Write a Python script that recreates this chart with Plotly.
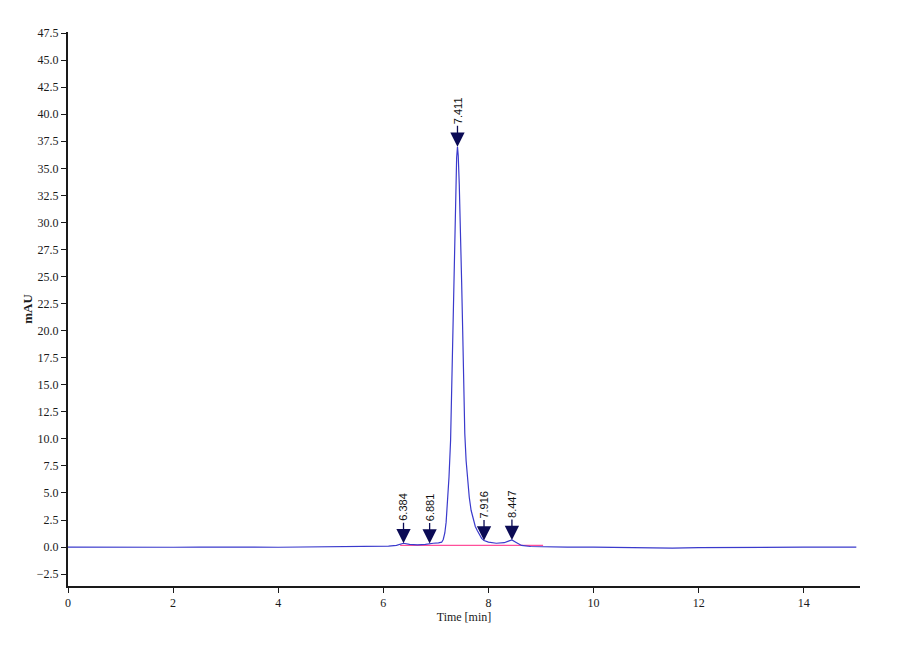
import plotly.graph_objects as go

# chromatogram (time in min, signal in mAU)
time_min = [0.0, 0.5, 1.0, 1.5, 2.0, 2.5, 3.0, 3.5, 4.0, 4.5, 5.0, 5.5, 5.8, 6.1,
            6.25, 6.384, 6.5, 6.65, 6.8, 6.881, 6.95, 7.05, 7.11, 7.14, 7.17, 7.195,
            7.215, 7.25, 7.28, 7.30, 7.318, 7.336, 7.356, 7.375, 7.395, 7.411, 7.425,
            7.445, 7.47, 7.49, 7.51, 7.53, 7.55, 7.575, 7.60, 7.635, 7.67, 7.71, 7.75,
            7.79, 7.83, 7.87, 7.916, 8.0, 8.15, 8.3, 8.38, 8.447, 8.52, 8.63, 8.8, 9.0,
            9.5, 10.0, 10.5, 11.0, 11.5, 12.0, 12.5, 13.0, 13.5, 14.0, 14.5, 15.0]
signal_mau = [0.0, -0.02, 0.0, 0.0, -0.02, 0.0, -0.03, 0.0, -0.02, 0.0, 0.0, 0.02, 0.05, 0.08,
              0.15, 0.35, 0.25, 0.2, 0.25, 0.32, 0.35, 0.38, 0.45, 0.7, 1.3, 2.3,
              3.7, 6.5, 9.9, 14.5, 20.0, 24.8, 29.3, 33.0, 36.0, 37.0, 36.2,
              33.5, 29.3, 24.5, 20.0, 14.5, 10.5, 8.0, 6.2, 4.6, 3.4, 2.5, 1.9,
              1.5, 1.1, 0.8, 0.6, 0.45, 0.35, 0.4, 0.55, 0.65, 0.45, 0.15, 0.05, 0.02,
              0.0, 0.0, -0.03, -0.08, -0.1, -0.06, -0.03, -0.02, 0.0, 0.0, 0.0, 0.0]

# integration baseline
base_time = [6.32, 9.04]
base_mau = [0.15, 0.15]

# detected peaks
peak_times = [6.384, 6.881, 7.411, 7.916, 8.447]
peak_heights = [0.35, 0.32, 37.0, 0.6, 0.65]
peak_labels = ["6.384", "6.881", "7.411", "7.916", "8.447"]

serif = "Liberation Serif"
ink = "#1a1a1a"

fig = go.Figure()
fig.add_trace(go.Scatter(x=base_time, y=base_mau, mode="lines",
                         line=dict(color="#ff4f9a", width=1.2), hoverinfo="skip"))
fig.add_trace(go.Scatter(x=time_min, y=signal_mau, mode="lines",
                         line=dict(color="#3a3acc", width=1.2)))

for t, h, lab in zip(peak_times, peak_heights, peak_labels):
    fig.add_annotation(x=t, y=h, text=lab, textangle=-90, showarrow=True,
                       ax=0, ay=-36, arrowhead=2, arrowsize=2.2, arrowwidth=1.3,
                       arrowcolor="#0b0b55", standoff=0,
                       font=dict(family="Liberation Sans", size=11, color="#111111"))

# y title placed by hand, just left of the tick labels
fig.add_annotation(xref="paper", yref="paper", x=-0.052, y=0.5, text="<b>mAU</b>",
                   textangle=-90, showarrow=False, xanchor="center", yanchor="middle",
                   font=dict(family=serif, size=13, color=ink))

fig.update_xaxes(range=[0, 15.07], tickvals=[0, 2, 4, 6, 8, 10, 12, 14],
                 showline=True, linecolor=ink, linewidth=2, ticks="outside",
                 ticklen=5, tickcolor=ink, showgrid=False, zeroline=False,
                 automargin=False,
                 title=dict(text="Time [min]", standoff=2, font=dict(family=serif, size=12, color=ink)),
                 tickfont=dict(family=serif, size=12, color=ink))
fig.update_yaxes(range=[-3.6, 47.6], tickvals=[-2.5 + 2.5 * i for i in range(21)],
                 tickformat=".1f", showline=True, linecolor=ink, linewidth=2,
                 ticks="outside", ticklen=5, tickcolor=ink, showgrid=False,
                 zeroline=False, automargin=False,
                 tickfont=dict(family=serif, size=12, color=ink))
# page body adds an 8px offset, so the figure is a bit smaller than the window
fig.update_layout(width=892, height=652, showlegend=False,
                  plot_bgcolor="white", paper_bgcolor="white",
                  margin=dict(l=60, r=40, t=24, b=74))

fig.write_html("out.html")
